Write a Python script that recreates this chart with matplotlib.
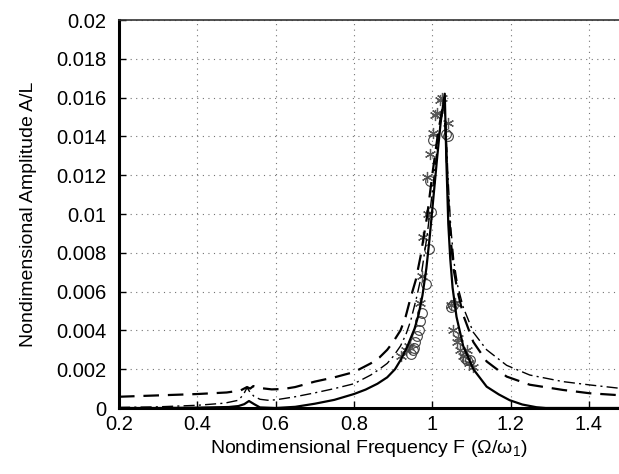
import numpy as np
import matplotlib
matplotlib.use("Agg")
from matplotlib import pyplot as plt

# model curves
solid_x = [0.2, 0.3, 0.4, 0.48, 0.505, 0.52, 0.532, 0.545, 0.56, 0.6, 0.65, 0.7, 0.75,
           0.8, 0.83, 0.86, 0.885, 0.905, 0.92, 0.935, 0.945, 0.955, 0.965, 0.975,
           0.985, 0.993, 1.0, 1.013, 1.022, 1.032, 1.036, 1.041, 1.046, 1.052, 1.062,
           1.079, 1.105, 1.139, 1.17, 1.198, 1.23, 1.266, 1.29, 1.477]
solid_y = [0.0, 0.0, 0.00002, 0.00005, 0.0001, 0.0002, 0.00036, 0.0002, 0.00003, 0.0,
           0.00006, 0.00022, 0.00042, 0.00072, 0.00095, 0.00125, 0.00158, 0.002,
           0.0025, 0.0031, 0.0036, 0.0041, 0.0048, 0.0058, 0.0072, 0.0087, 0.0102,
           0.013, 0.0148, 0.0162, 0.0128, 0.0095, 0.0077, 0.0062, 0.0047, 0.0032,
           0.002, 0.0011, 0.0007, 0.0004, 0.00018, 0.00004, 0.0, 0.0]

dashed_x = [0.2, 0.3, 0.4, 0.475, 0.51, 0.527, 0.535, 0.543, 0.56, 0.59, 0.62, 0.65,
            0.7, 0.75, 0.8, 0.843, 0.865, 0.885, 0.9, 0.919, 0.932, 0.945, 0.958, 0.97,
            0.987, 1.0, 1.015, 1.03, 1.035, 1.04, 1.047, 1.055, 1.065, 1.079, 1.105,
            1.139, 1.19, 1.249, 1.334, 1.402, 1.477]
dashed_y = [0.00058, 0.00065, 0.00072, 0.0008, 0.0009, 0.00108, 0.001, 0.00113,
            0.00103, 0.00096, 0.00098, 0.00108, 0.00136, 0.00158, 0.00185, 0.0023,
            0.0026, 0.003, 0.0034, 0.004, 0.0047, 0.0057, 0.0066, 0.0078, 0.0099,
            0.012, 0.0142, 0.0159, 0.0138, 0.0112, 0.0087, 0.0071, 0.006, 0.0048,
            0.0034, 0.0024, 0.00162, 0.0012, 0.00093, 0.00076, 0.00066]

dashdot_x = [0.2, 0.3, 0.4, 0.47, 0.505, 0.518, 0.527, 0.535, 0.545, 0.56, 0.58, 0.6,
             0.65, 0.7, 0.75, 0.8, 0.843, 0.865, 0.885, 0.902, 0.919, 0.933, 0.945,
             0.96, 0.97, 0.987, 1.0, 1.015, 1.03, 1.035, 1.04, 1.047, 1.055, 1.065,
             1.079, 1.105, 1.139, 1.19, 1.249, 1.334, 1.402, 1.477]
dashdot_y = [0.00003, 0.00006, 0.00014, 0.00025, 0.0004, 0.0007, 0.00105, 0.0008,
             0.0006, 0.00045, 0.0004, 0.00042, 0.00058, 0.00078, 0.001, 0.00125,
             0.0017, 0.002, 0.0023, 0.0027, 0.0032, 0.0038, 0.0045, 0.0057, 0.0066,
             0.0089, 0.0111, 0.0138, 0.0159, 0.0145, 0.012, 0.0094, 0.0076, 0.0063,
             0.0052, 0.0039, 0.003, 0.0022, 0.0017, 0.00136, 0.00119, 0.00102]

# experimental points
circ_x = [0.945, 0.950, 0.953, 0.957, 0.962, 0.966, 0.970, 0.974, 0.983, 0.991, 0.996,
          0.994, 1.0025, 1.036, 1.041, 1.049, 1.054, 1.083, 1.088, 1.096]
circ_y = [0.0028, 0.0030, 0.0031, 0.0034, 0.0037, 0.0040, 0.0045, 0.0049, 0.0064,
          0.0082, 0.0101, 0.0117, 0.0138, 0.0141, 0.0140, 0.0052, 0.0053, 0.0026,
          0.0025, 0.0025]

star_x = [0.919, 0.932, 0.940, 0.970, 0.973, 0.977, 0.990, 0.9855, 0.994, 1.0025, 1.007,
          1.011, 1.0195, 1.024, 1.0407, 1.049, 1.058, 1.054, 1.062, 1.067, 1.071, 1.079,
          1.088, 1.095, 1.105]
star_y = [0.0027, 0.0030, 0.0032, 0.0054, 0.0068, 0.0088, 0.0100, 0.0119, 0.0131,
          0.0142, 0.0151, 0.0152, 0.0159, 0.0160, 0.0147, 0.0053, 0.0054, 0.0040,
          0.0034, 0.0036, 0.0030, 0.0027, 0.0030, 0.0023, 0.0021]

x_ticks = [0.2, 0.4, 0.6, 0.8, 1.0, 1.2, 1.4]
y_ticks = [0.0, 0.002, 0.004, 0.006, 0.008, 0.01, 0.012, 0.014, 0.016, 0.018, 0.02]

plt.rcParams['font.family'] = ['Liberation Sans', 'DejaVu Sans']
plt.rcParams['mathtext.fontset'] = 'custom'
plt.rcParams['mathtext.rm'] = 'Liberation Sans'

fig = plt.figure(figsize=(6.19, 4.74), dpi=100)
ax = fig.add_axes([119 / 619, 1 - 408 / 474, 1 - 119 / 619, (408 - 20) / 474])

ax.plot(star_x, star_y, linestyle='none', marker=(6, 2, 0), markersize=8,
        color='0.35', markeredgewidth=0.9, zorder=3)
ax.plot(circ_x, circ_y, linestyle='none', marker='o', markersize=7,
        markerfacecolor='none', markeredgecolor='0.25', markeredgewidth=0.8, zorder=3)

ax.plot(solid_x, solid_y, color='black', linewidth=1.6, zorder=4)
ax.plot(dashed_x, dashed_y, color='black', linewidth=1.6, dashes=(7, 4), zorder=4)
ax.plot(dashdot_x, dashdot_y, color='black', linewidth=1.0, dashes=(8, 3, 1.5, 3), zorder=4)

ax.set_xlim(0.2, 1.477)
ax.set_ylim(0, 0.02)
ax.set_xticks(x_ticks)
ax.set_yticks(y_ticks)
ax.set_xticklabels(['%g' % v for v in x_ticks])
ax.set_yticklabels(['%g' % v for v in y_ticks])

ax.grid(True, linestyle=(0, (1, 4)), color='0.45', linewidth=0.8)
ax.tick_params(direction='in', length=5, width=1, labelsize=14.5, colors='black')
ax.tick_params(axis='x', pad=5)
ax.tick_params(axis='y', pad=9)

for side in ['left', 'bottom']:
    ax.spines[side].set_linewidth(2.2)
ax.spines['top'].set_linewidth(1.2)
ax.spines['top'].set_color('0.2')
ax.spines['right'].set_visible(False)

ax.set_xlabel('Nondimensional Frequency F (Ω/ω$_1$)', fontsize=14, labelpad=3)
ax.set_ylabel('Nondimensional Amplitude A/L', fontsize=14, labelpad=14)

fig.savefig('out.png', dpi=100)
